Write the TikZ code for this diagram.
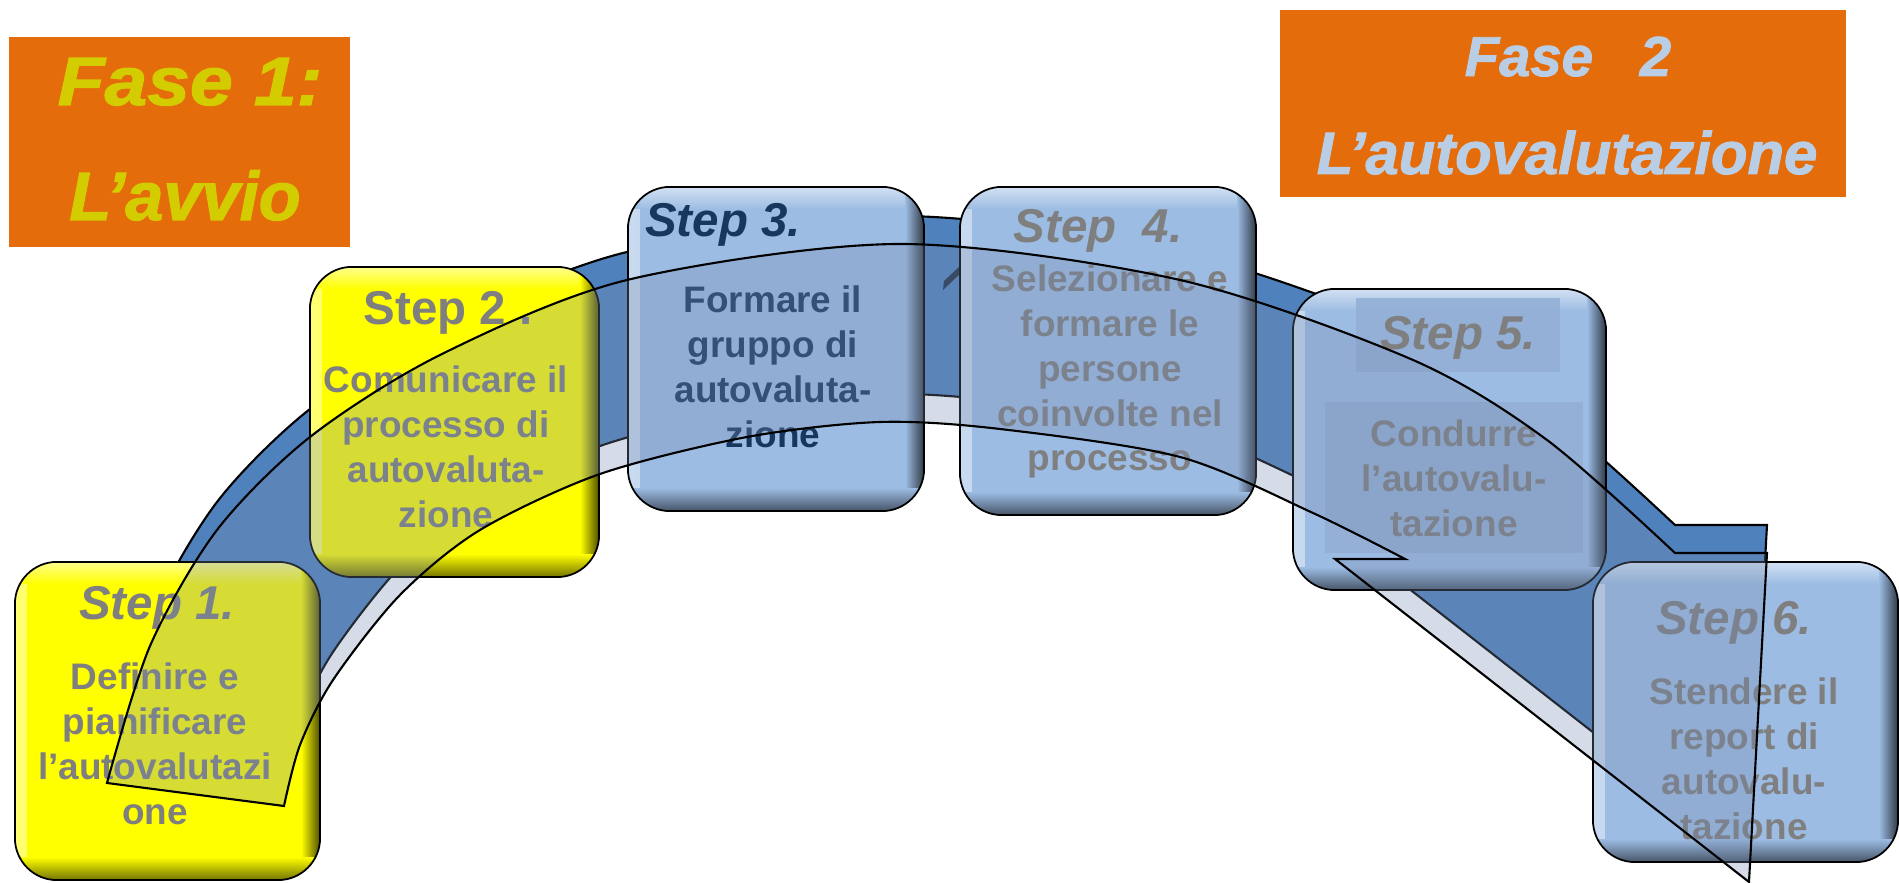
\documentclass[tikz,border=0pt]{standalone}
\usepackage{fontspec}
\setmainfont{Liberation Sans}
\newfontfamily\heavyfont{Liberation Sans}[FakeBold=1.6]
\definecolor{orangebox}{HTML}{E46C0A}
\definecolor{faseone}{HTML}{D3CC00}
\definecolor{fasetwo}{HTML}{B9CDE5}
\definecolor{bandblue}{HTML}{4F81BD}
\definecolor{boxblue}{HTML}{9CBCE3}
\definecolor{boxyellow}{HTML}{FFFF00}
\definecolor{txtgray}{HTML}{7F7F7F}
\definecolor{txtnavy}{HTML}{17375E}
\definecolor{innerblue}{HTML}{93AFD6}
\definecolor{veil}{RGB}{120,140,175}
\definecolor{markdark}{HTML}{1F2E45}
\newcommand\bodyfont{\fontsize{10.5}{12.72}\selectfont\bfseries}
\newcommand\labfont{\fontsize{13.5}{16}\selectfont\bfseries\itshape}
\newcommand\labfontup{\fontsize{13.5}{16}\selectfont\bfseries}
\begin{document}
\begin{tikzpicture}[x=0.01cm, y=-0.01cm,
  fasebox/.style={fill=orangebox, inner sep=0pt, draw=none},
  fasetext/.style={anchor=base, inner sep=0pt, font=\heavyfont\fontsize{#1}{#1}\selectfont\bfseries\itshape},
  stepbox/.style={draw=black, line width=0.5pt, rounded corners=0.42cm, fill=#1, inner sep=0pt,
    path picture={
      \fill[sharp corners, left color=#1!55!white, right color=#1]
        (path picture bounding box.north west) rectangle ([xshift=0.12cm]path picture bounding box.south west);
      \fill[sharp corners, top color=#1!45!white, bottom color=#1]
        (path picture bounding box.north west) rectangle ([yshift=-0.22cm]path picture bounding box.north east);
      \fill[sharp corners, left color=#1, right color=#1!30!black]
        ([xshift=-0.19cm]path picture bounding box.north east) rectangle ([yshift=0.23cm]path picture bounding box.south east);
      \fill[sharp corners, top color=#1, bottom color=#1!45!black]
        ([yshift=0.23cm]path picture bounding box.south west) rectangle (path picture bounding box.south east);
    }},
  innerrect/.style={fill=innerblue, fill opacity=0.85, inner sep=0pt, draw=none},
  steplabel/.style={anchor=base, inner sep=0pt, font=\labfont},
  bodytext/.style={anchor=base, inner sep=0pt, font=\bodyfont},
  arrowshape/.style={insert path={
    plot[smooth] coordinates {(107,783) (150,646) (217,530) (310,437) (440,355) (627,280)
      (900,244) (1180,280) (1413,360) (1547,440) (1675,553)}
    -- (1767,553) -- (1749,882) -- (1335,559) -- (1405,559)
    -- plot[smooth] coordinates {(1405,559) (1313,513) (1180,457) (1000,429) (880,422) (747,437)
      (600,474) (480,530) (400,595) (333,680) (300,745) (284,806)}
    -- cycle}}
]
\useasboundingbox (0,0) rectangle (1899,883);

% phase boxes
\node[fasebox, minimum width=3.41cm, minimum height=2.10cm] (f1) at (179.5,142) {};
\node[fasetext=19.5, text=faseone] (f1a) at (190,105) {\scalebox{1.12}[1]{Fase 1:}};
\node[fasetext=19.5, text=faseone] (f1b) at (185,220) {L’avvio};
\node[fasebox, minimum width=5.66cm, minimum height=1.87cm] (f2) at (1563,103.5) {};
\node[fasetext=16, text=fasetwo] (f2a) at (1568,76) {Fase\ \ \ 2};
\node[fasetext=17, text=fasetwo] (f2b) at (1567,174) {L’autovalutazione};

% back band of the curved arrow
\begin{scope}[shift={(0,-28)}]
  \path[arrowshape, fill=bandblue, draw=black, line width=0.6pt];
\end{scope}
\fill[markdark] (943,290) -- (944,281) -- (960,266) -- (962,272) -- cycle;

% step boxes
\node[stepbox=boxyellow, minimum width=3.05cm, minimum height=3.18cm] (s1) at (167.5,721) {};
\node[stepbox=boxyellow, minimum width=2.89cm, minimum height=3.10cm] (s2) at (454.5,422) {};
\node[stepbox=boxblue, minimum width=2.96cm, minimum height=3.24cm] (s3) at (776,349) {};
\node[stepbox=boxblue, minimum width=2.96cm, minimum height=3.28cm] (s4) at (1108,351) {};
\node[stepbox=boxblue, minimum width=3.13cm, minimum height=3.01cm] (s5) at (1449.5,439.5) {};
\node[stepbox=boxblue, minimum width=3.05cm, minimum height=3.00cm] (s6) at (1745.5,712) {};
\node[innerrect, minimum width=2.04cm, minimum height=0.74cm] (s5r1) at (1458,335) {};
\node[innerrect, minimum width=2.58cm, minimum height=1.51cm] (s5r2) at (1454,477.5) {};

% step texts
\node[steplabel, text=txtgray] (l1) at (157,620) {Step 1.};
\node[bodytext, text=txtgray] (b1) at (155,690) {\begin{tabular}[t]{@{}c@{}}Definire e\\pianificare\\l’autovalutazi\\one\end{tabular}};
\node[steplabel, font=\labfontup, text=txtgray] (l2) at (448,325) {Step 2 .};
\node[bodytext, text=txtgray] (b2) at (446,393) {\begin{tabular}[t]{@{}c@{}}Comunicare il\\processo di\\autovaluta-\\zione\end{tabular}};
\node[steplabel, text=txtnavy] (l3) at (723,237) {Step 3.};
\node[bodytext, text=txtnavy] (b3) at (773,313) {\begin{tabular}[t]{@{}c@{}}Formare il\\gruppo di\\autovaluta-\\zione\end{tabular}};
\node[steplabel, text=txtgray] (l4) at (1098,243) {Step\ \ 4.};
\node[bodytext, text=txtgray] (b4) at (1110,292) {\begin{tabular}[t]{@{}c@{}}Selezionare e\\formare le\\persone\\coinvolte nel\\processo\end{tabular}};
\node[steplabel, text=txtgray] (l5) at (1458,350) {Step 5.};
\node[bodytext, text=txtgray] (b5) at (1454,447) {\begin{tabular}[t]{@{}c@{}}Condurre\\l’autovalu-\\tazione\end{tabular}};
\node[steplabel, text=txtgray] (l6) at (1734,635) {Step 6.};
\node[bodytext, text=txtgray] (b6) at (1744,705) {\begin{tabular}[t]{@{}c@{}}Stendere il\\report di\\autovalu-\\tazione\end{tabular}};

% translucent front face of the curved arrow
\path[arrowshape, fill=veil, fill opacity=0.3, draw=black, line width=0.6pt];
\end{tikzpicture}
\end{document}
